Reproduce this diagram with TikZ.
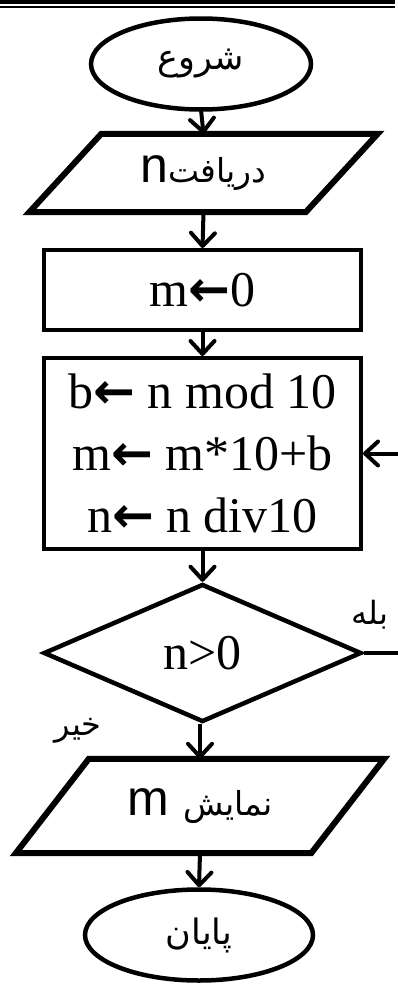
\documentclass[tikz,border=0pt]{standalone}
\usepackage{fontspec}
\setmainfont{Liberation Serif}
\newfontfamily\arabicfont[Script=Arabic]{DejaVu Sans}
\newfontfamily\latinsans{Liberation Sans}
\newfontfamily\arrowfont{DejaVu Sans}
\newcommand{\larr}{{\arrowfont\bfseries ←}}
\TeXXeTstate=1
\usetikzlibrary{shapes.geometric,arrows.meta,calc}
\begin{document}
\begin{tikzpicture}[x=1pt,y=-1pt,
  shapeline/.style={draw,line width=4.5pt},
  paraline/.style={line width=6pt,line join=miter},
  flow/.style={line width=4pt,-{Straight Barb[length=13pt,width=24pt,round]}},
  serif/.style={font=\fontsize{50}{62}\selectfont},
  ar/.style={font=\arabicfont\fontsize{35}{40}\selectfont},
  arlabel/.style={font=\arabicfont\fontsize{32}{36}\selectfont,inner sep=0},
  blank/.style={inner sep=0}
]
\useasboundingbox (0,0) rectangle (398,985);
\clip (0,0) rectangle (398,985);
\draw[line width=4pt] (0,2) -- (395,2);
\draw[line width=2pt] (0,6.5) -- (395,6.5);

\node[shapeline, ellipse, minimum width=220, minimum height=91, inner sep=0, ar] (start) at (201,64) {\beginR شروع\endR};

\node[blank, minimum width=276, minimum height=78] (in) at (203.5,173) {{\latinsans\fontsize{50}{60}\selectfont n}{\arabicfont\fontsize{33}{38}\selectfont\beginR دریافت\endR}};
\draw[paraline] ($(in.north west)+(36,0)$) -- ($(in.north east)+(36,0)$) -- ($(in.south east)+(-36,0)$) -- ($(in.south west)+(-36,0)$) -- cycle;

\node[shapeline, line width=4pt, rectangle, minimum width=317, minimum height=80, inner sep=0, serif] (init) at (202.5,290) {m\larr0};

\node[shapeline, line width=4pt, rectangle, minimum width=317, minimum height=191, inner sep=0, serif, align=center] (body) at (202.5,453.5) {b\larr{} n mod 10\\ m\larr{} m*10+b\\ n\larr{} n div10};

\node[shapeline, diamond, minimum width=318, minimum height=138, inner sep=0, serif] (dec) at (202.5,653) {n>0};

\node[blank, minimum width=295, minimum height=94] (out) at (200,806) {{\latinsans\fontsize{50}{60}\selectfont m}\hspace{14pt}{\arabicfont\fontsize{33}{38}\selectfont\beginR نمایش\endR}};
\draw[paraline] ($(out.north west)+(36.5,0)$) -- ($(out.north east)+(36.5,0)$) -- ($(out.south east)+(-36.5,0)$) -- ($(out.south west)+(-36.5,0)$) -- cycle;

\node[shapeline, ellipse, minimum width=228, minimum height=91, inner sep=0, ar] (end) at (199,935) {\beginR پایان\endR};

\node[arlabel] (yes) at (370,615) {\beginR بله\endR};
\node[arlabel] (no) at (78,731) {\beginR خیر\endR};

\draw[flow] (in.north -| start.south) ++(0,-24) -- (in.north);
\draw[flow] (in.south) -- (init.north);
\draw[flow] (init.south) -- (body.north);
\draw[flow] (body.south) -- (dec.north);
\draw[flow] (dec.south -| out.north) -- (out.north);
\draw[flow] (out.south) -- (end.north);
\draw[flow] (dec.east) -- ++(50,0) |- (body.east);
\end{tikzpicture}
\end{document}
